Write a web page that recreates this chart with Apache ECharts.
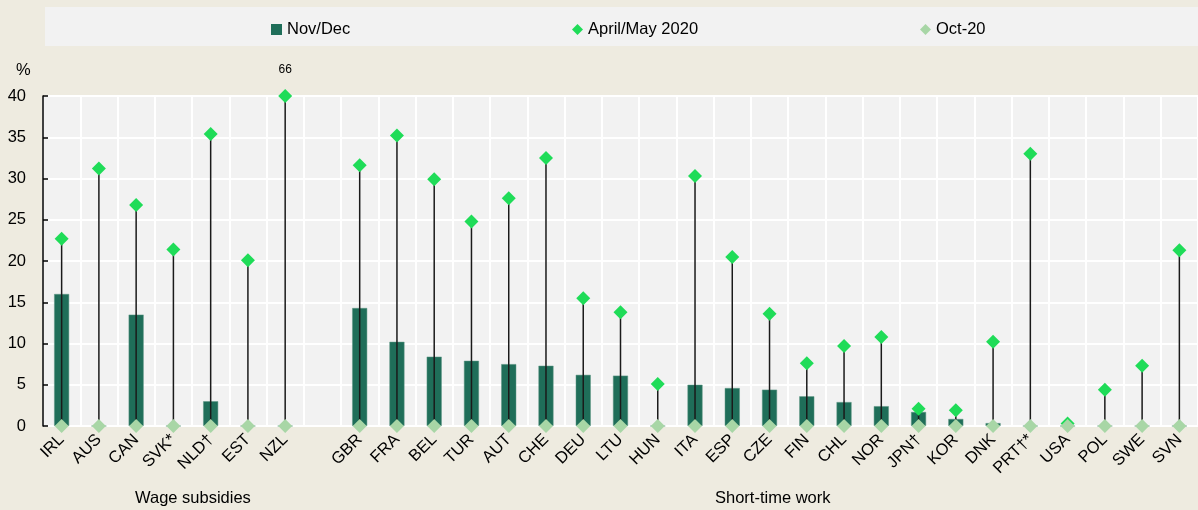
<!DOCTYPE html>
<html>
<head>
<meta charset="utf-8">
<script src="https://cdn.jsdelivr.net/npm/echarts@6/dist/echarts.min.js"></script>
<style>
  html, body { margin: 0; padding: 0; background: #eeebe0; }
  #chart { width: 1198px; height: 510px; }
</style>
</head>
<body>
<div id="chart"></div>
<script>
// categories (blank slot separates the two groups)
var categories = ['IRL','AUS','CAN','SVK*','NLD†','EST','NZL','','GBR','FRA','BEL','TUR','AUT','CHE','DEU','LTU','HUN','ITA','ESP','CZE','FIN','CHL','NOR','JPN†','KOR','DNK','PRT†*','USA','POL','SWE','SVN'];
var novDec   = [16.0,0,13.5,0,3.0,0,0,null,14.3,10.2,8.4,7.9,7.5,7.3,6.2,6.1,0,5.0,4.6,4.4,3.6,2.9,2.4,1.7,0.85,0.35,0,0,0,0,0];
var aprilMay = [22.7,31.2,26.8,21.4,35.4,20.1,66,null,31.6,35.2,29.9,24.8,27.6,32.5,15.5,13.8,5.1,30.3,20.5,13.6,7.6,9.7,10.8,2.1,1.9,10.2,33.0,0.3,4.4,7.3,21.3];
var oct20    = [0,0,0,0,0,0,0,null,0,0,0,0,0,0,0,0,0,0,0,0,0,0,0,0,0,0,0,0,0,0,0];
var yTicks = { min: 0, max: 40, interval: 5 };

var fontName = '"Liberation Sans", Arial, sans-serif';

// values above the axis are drawn at the top, with their value written above
var aprilMayShown = aprilMay.map(function (v, i) {
    if (v === null) return null;
    if (v > yTicks.max) {
        return { value: [i, yTicks.max], label: { show: true, formatter: String(v), position: 'top', distance: 13, fontSize: 12, color: '#000', fontFamily: fontName } };
    }
    return [i, v];
});
var whisker = aprilMay.map(function (v, i) {
    return v === null ? [i, null] : [i, Math.min(v, yTicks.max)];
});

function legendAt(left, name, icon) {
    return {
        left: left, top: 21, padding: 0,
        itemWidth: 11, itemHeight: 11,
        itemStyle: { borderWidth: 0 },
        textStyle: { fontSize: 16.5, color: '#000', fontFamily: fontName },
        data: [{ name: name, icon: icon }]
    };
}

var chart = echarts.init(document.getElementById('chart'));
var option = {
    animation: false,
    backgroundColor: '#eeebe0',
    textStyle: { fontFamily: fontName },
    graphic: [
        { type: 'rect', left: 45, top: 7, shape: { width: 1153, height: 39 }, style: { fill: '#f2f2f2' }, z: -10 },
        { type: 'text', left: 16, top: 62, style: { text: '%', fontSize: 16.5, fill: '#000', fontFamily: fontName } },
        { type: 'text', left: 135, top: 490, style: { text: 'Wage subsidies', fontSize: 16.5, fill: '#000', fontFamily: fontName } },
        { type: 'text', left: 715, top: 490, style: { text: 'Short-time work', fontSize: 16.5, fill: '#000', fontFamily: fontName } }
    ],
    legend: [
        legendAt(271, 'Nov/Dec', 'rect'),
        legendAt(572, 'April/May 2020', 'diamond'),
        legendAt(920, 'Oct-20', 'diamond')
    ],
    grid: { left: 43, right: 0, top: 96, bottom: 84, backgroundColor: '#f2f2f2', show: true, borderWidth: 0 },
    xAxis: {
        type: 'category',
        data: categories,
        axisLine: { show: false },
        axisTick: { show: false },
        axisLabel: { interval: 0, rotate: 45, fontSize: 16.5, color: '#000', margin: 11, fontFamily: fontName },
        splitLine: { show: true, interval: 0, lineStyle: { color: '#ffffff', width: 2 } }
    },
    yAxis: {
        type: 'value',
        min: yTicks.min,
        max: yTicks.max,
        interval: yTicks.interval,
        axisLine: { show: true, lineStyle: { color: '#000', width: 1.5 } },
        axisTick: { show: true, inside: true, length: 5, lineStyle: { color: '#000', width: 1.5 } },
        axisLabel: { fontSize: 16.5, color: '#000', margin: 17, fontFamily: fontName },
        splitLine: { show: true, lineStyle: { color: '#ffffff', width: 2 } }
    },
    series: [
        {
            name: 'Nov/Dec',
            type: 'bar',
            data: novDec,
            barWidth: 15,
            itemStyle: { color: '#1f6e59', borderColor: '#5f9685', borderWidth: 0.5 },
            z: 2
        },
        {
            name: 'range',
            type: 'custom',
            data: whisker,
            renderItem: function (params, api) {
                var v = api.value(1);
                if (v === null || isNaN(v)) return null;
                var top = api.coord([api.value(0), v]);
                var bot = api.coord([api.value(0), 0]);
                return {
                    type: 'line',
                    shape: { x1: top[0], y1: top[1], x2: bot[0], y2: bot[1] },
                    style: { stroke: '#1a1a1a', lineWidth: 1.5 }
                };
            },
            z: 3,
            silent: true
        },
        {
            name: 'April/May 2020',
            type: 'scatter',
            symbol: 'diamond',
            symbolSize: 14,
            data: aprilMayShown,
            itemStyle: { color: '#1fdc58', opacity: 1 },
            z: 4
        },
        {
            name: 'Oct-20',
            type: 'scatter',
            symbol: 'diamond',
            symbolSize: 14,
            data: oct20.map(function (v, i) { return v === null ? null : [i, v]; }),
            itemStyle: { color: '#a8d6a6', opacity: 1 },
            z: 5
        }
    ]
};
chart.setOption(option);
</script>
</body>
</html>
